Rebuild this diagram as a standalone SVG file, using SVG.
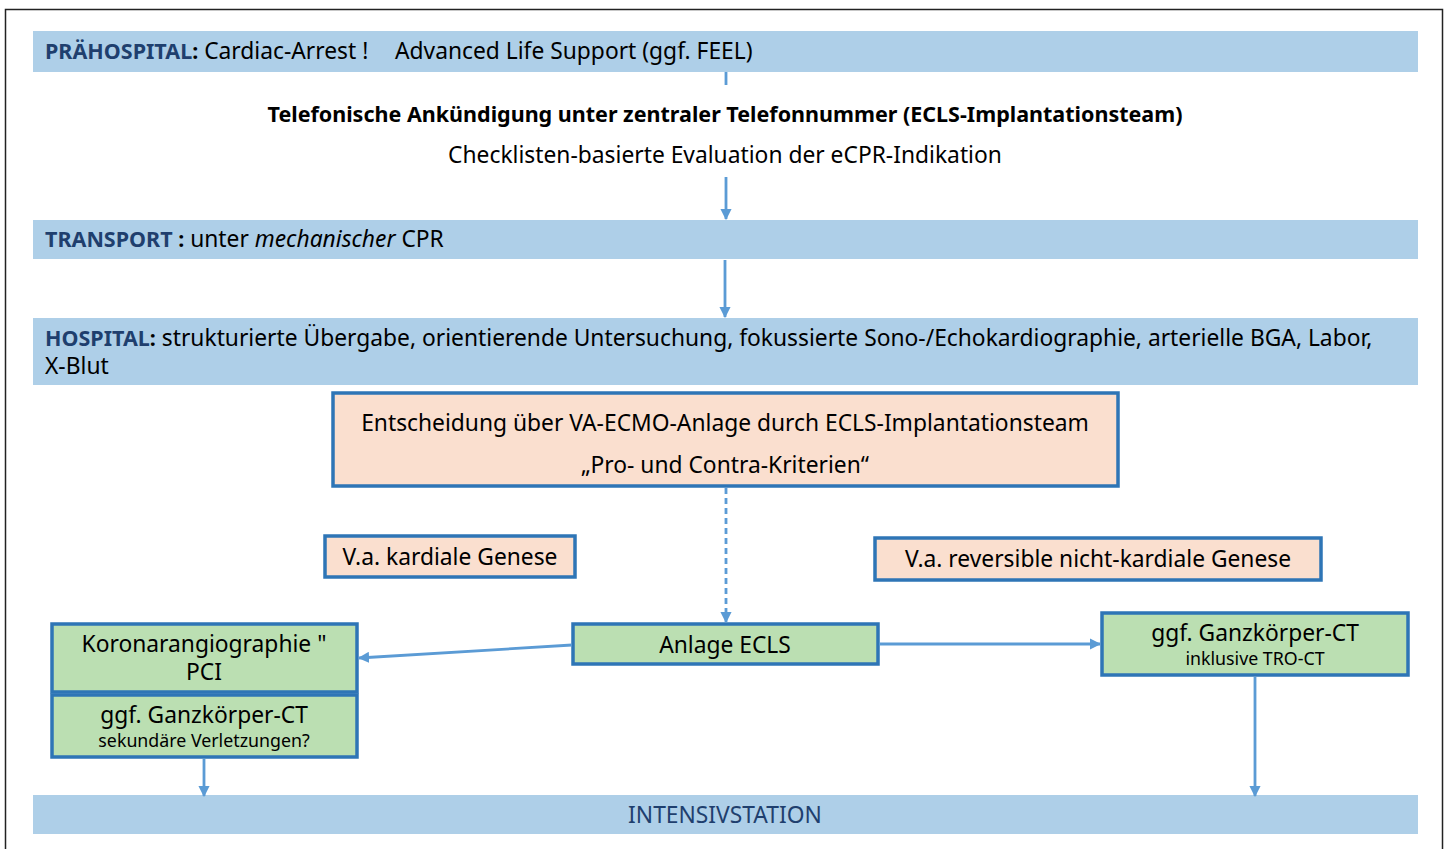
<svg xmlns="http://www.w3.org/2000/svg" width="1449" height="849" viewBox="0 0 1449 849">
<defs>
<style>
text{font-family:"Noto Sans","Open Sans",sans-serif;fill:#000;font-size:22.8px;}
.b{font-weight:bold;font-size:21.5px;}
.band{fill:#aecfe8;}
.hd{fill:#1f3f6e;font-weight:bold;font-size:21.5px;}
.box{stroke:#2e75b6;stroke-width:3.5;}
.peach{fill:#fadfcf;}
.green{fill:#bbdfb2;}
.sm{font-size:17.8px;}
.con{stroke:#5b9bd5;stroke-width:2.8;fill:none;}
</style>
<marker id="ah" viewBox="0 0 10 10" refX="9" refY="5" markerWidth="4" markerHeight="4" orient="auto" markerUnits="strokeWidth">
<path d="M0,0 L10,5 L0,10 z" fill="#5b9bd5"/>
</marker>
</defs>
<rect x="0" y="0" width="1449" height="849" fill="#fff"/>
<rect x="5.5" y="9.5" width="1437" height="850" fill="none" stroke="#222" stroke-width="1.5"/>

<g id="praehospital">
<rect class="band" x="33" y="31" width="1385" height="41"/>
<text x="45" y="59"><tspan class="hd">PRÄHOSPITAL</tspan><tspan class="b">:</tspan> Cardiac-Arrest !</text>
<text x="395" y="59">Advanced Life Support (ggf. FEEL)</text>
</g>
<g id="ankuendigung">
<text class="b" x="725" y="122" text-anchor="middle">Telefonische Ankündigung unter zentraler Telefonnummer (ECLS-Implantationsteam)</text>
<text x="725" y="163" text-anchor="middle">Checklisten-basierte Evaluation der eCPR-Indikation</text>
</g>
<g id="transport">
<rect class="band" x="33" y="220" width="1385" height="39"/>
<text x="45" y="247"><tspan class="hd">TRANSPORT</tspan><tspan class="b"> :</tspan> unter <tspan font-style="italic">mechanischer</tspan> CPR</text>
</g>
<g id="hospital">
<rect class="band" x="33" y="318" width="1385" height="67"/>
<text x="45" y="346"><tspan class="hd">HOSPITAL</tspan><tspan class="b">:</tspan> strukturierte Übergabe, orientierende Untersuchung, fokussierte Sono-/Echokardiographie, arterielle BGA, Labor,</text>
<text x="45" y="374">X-Blut</text>
</g>
<g id="entscheidung">
<rect class="box peach" x="333" y="393" width="785" height="93"/>
<text x="725" y="431" text-anchor="middle">Entscheidung über VA-ECMO-Anlage durch ECLS-Implantationsteam</text>
<text x="725" y="473" text-anchor="middle">„Pro- und Contra-Kriterien“</text>
</g>
<g id="kardial">
<rect class="box peach" x="325" y="536" width="250" height="41"/>
<text x="450" y="565" text-anchor="middle">V.a. kardiale Genese</text>
</g>
<g id="nichtkardial">
<rect class="box peach" x="875" y="538" width="446" height="42"/>
<text x="1098" y="567" text-anchor="middle">V.a. reversible nicht-kardiale Genese</text>
</g>
<g id="anlage">
<rect class="box green" x="573" y="624" width="305" height="40"/>
<text x="725" y="653" text-anchor="middle">Anlage ECLS</text>
</g>
<g id="koronar">
<rect class="box green" x="52" y="624" width="305" height="68"/>
<text x="204" y="652" text-anchor="middle">Koronarangiographie "</text>
<text x="204" y="680" text-anchor="middle">PCI</text>
</g>
<g id="ct-links">
<rect class="box green" x="52" y="695" width="305" height="62"/>
<text x="204" y="723" text-anchor="middle">ggf. Ganzkörper-CT</text>
<text class="sm" x="204" y="747" text-anchor="middle">sekundäre Verletzungen?</text>
</g>
<g id="ct-rechts">
<rect class="box green" x="1102" y="613" width="306" height="62"/>
<text x="1255" y="641" text-anchor="middle">ggf. Ganzkörper-CT</text>
<text class="sm" x="1255" y="665" text-anchor="middle">inklusive TRO-CT</text>
</g>
<g id="intensivstation">
<rect class="band" x="33" y="795" width="1385" height="39"/>
<text x="725" y="823" style="fill:#1f3f6e" text-anchor="middle">INTENSIVSTATION</text>
</g>
<g id="connectors">
<line class="con" x1="726" y1="72" x2="726" y2="85"/>
<line class="con" x1="726" y1="177" x2="726" y2="219" marker-end="url(#ah)"/>
<line class="con" x1="725" y1="260" x2="725" y2="317" marker-end="url(#ah)"/>
<line class="con" x1="726" y1="488" x2="726" y2="622" stroke-dasharray="6,4" marker-end="url(#ah)"/>
<line class="con" x1="572" y1="645" x2="359" y2="658" marker-end="url(#ah)"/>
<line class="con" x1="879" y1="644" x2="1100" y2="644" marker-end="url(#ah)"/>
<line class="con" x1="204" y1="759" x2="204" y2="796" marker-end="url(#ah)"/>
<line class="con" x1="1255" y1="677" x2="1255" y2="796" marker-end="url(#ah)"/>
</g>
</svg>
